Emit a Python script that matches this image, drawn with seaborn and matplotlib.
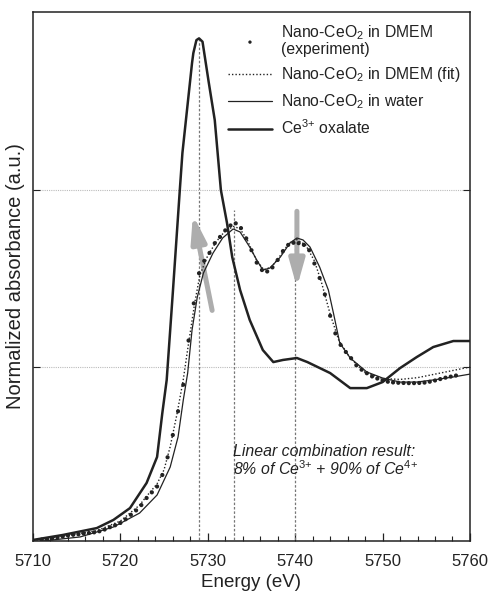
import numpy as np
import pandas as pd
import matplotlib
matplotlib.use("Agg")
import matplotlib.pyplot as plt
import seaborn as sns

# ---------------- data ----------------
oxalate_energy = [5710.0, 5713.4, 5717.3, 5719.2, 5721.1, 5723.0, 5724.2, 5724.8, 5725.3,
                  5726.0, 5726.8, 5727.1, 5727.5, 5728.2, 5728.35, 5728.7, 5729.0, 5729.4,
                  5730.1, 5730.8, 5731.5, 5732.2, 5732.8, 5733.7, 5734.8, 5736.3, 5737.5,
                  5738.6, 5740.2, 5741.4, 5744.0, 5746.3, 5748.2, 5750.0, 5752.0, 5753.9,
                  5755.8, 5758.1, 5760.0]
oxalate_abs = [0.023, 0.051, 0.090, 0.136, 0.203, 0.345, 0.492, 0.740, 0.927,
               1.420, 2.000, 2.210, 2.395, 2.718, 2.774, 2.847, 2.857, 2.838,
               2.612, 2.395, 2.000, 1.814, 1.621, 1.435, 1.266, 1.096, 1.028,
               1.040, 1.051, 1.028, 0.966, 0.881, 0.881, 0.915, 0.994, 1.056,
               1.113, 1.147, 1.147]

water_energy = [5710.0, 5715.4, 5719.2, 5722.2, 5724.2, 5725.7, 5726.6, 5727.2, 5727.7,
                5728.2, 5728.8, 5729.5, 5730.6, 5731.7, 5732.9, 5733.7, 5734.8, 5735.6,
                5736.3, 5737.1, 5738.3, 5739.4, 5740.2, 5740.9, 5741.7, 5742.8, 5743.8,
                5744.4, 5745.1, 5746.3, 5748.2, 5750.0, 5752.0, 5753.9, 5755.8, 5758.1, 5760.0]
water_abs = [0.011, 0.040, 0.096, 0.175, 0.277, 0.435, 0.605, 0.814, 0.966,
             1.209, 1.395, 1.531, 1.644, 1.729, 1.780, 1.763, 1.678, 1.605,
             1.548, 1.559, 1.621, 1.701, 1.729, 1.718, 1.678, 1.565, 1.435,
             1.300, 1.136, 1.051, 0.972, 0.938, 0.915, 0.915, 0.927, 0.944, 0.960]

fit_energy = [5710.0, 5714.0, 5717.3, 5720.0, 5722.2, 5723.0, 5724.2, 5725.0, 5725.7,
              5726.5, 5727.2, 5727.7, 5728.5, 5729.1, 5730.0, 5731.0, 5732.0, 5733.0,
              5733.7, 5734.5, 5735.5, 5736.4, 5737.3, 5738.3, 5739.3, 5740.2, 5741.2,
              5742.2, 5743.0, 5744.0, 5745.0, 5746.3, 5748.0, 5750.0, 5752.0, 5754.0,
              5756.0, 5758.0, 5760.0]
fit_abs = [0.020, 0.050, 0.075, 0.130, 0.220, 0.270, 0.340, 0.420, 0.550,
           0.740, 0.930, 1.100, 1.360, 1.520, 1.630, 1.710, 1.770, 1.795,
           1.780, 1.720, 1.610, 1.550, 1.565, 1.630, 1.700, 1.720, 1.690,
           1.600, 1.480, 1.300, 1.150, 1.050, 0.970, 0.935, 0.930, 0.940,
           0.960, 0.980, 1.000]

exp_energy = [round(5711.0 + 0.6 * i, 1) for i in range(80)]
exp_abs = [0.025, 0.028, 0.032, 0.037, 0.042, 0.048, 0.052, 0.055, 0.059, 0.062,
           0.066, 0.072, 0.082, 0.095, 0.106, 0.119, 0.140, 0.165, 0.190, 0.220,
           0.260, 0.292, 0.325, 0.390, 0.490, 0.616, 0.750, 0.900, 1.150, 1.360,
           1.530, 1.600, 1.645, 1.700, 1.735, 1.772, 1.800, 1.812, 1.785, 1.727,
           1.660, 1.590, 1.548, 1.540, 1.563, 1.605, 1.655, 1.690, 1.702, 1.700,
           1.690, 1.660, 1.585, 1.503, 1.410, 1.290, 1.190, 1.125, 1.085, 1.050,
           1.010, 0.985, 0.965, 0.947, 0.935, 0.925, 0.917, 0.913, 0.911, 0.910,
           0.909, 0.909, 0.910, 0.912, 0.917, 0.924, 0.932, 0.940, 0.946, 0.952]

# reference markers: (energy, top of dashed line)
ref_energy = [5729.0, 5733.0, 5740.0]
ref_top = [2.86, 1.89, 1.75]

x_ticks = [5710, 5720, 5730, 5740, 5750, 5760]
y_grid = [1, 2]

# ---------------- styling ----------------
sns.set_style("ticks")
plt.rcParams["font.family"] = ["Liberation Sans", "DejaVu Sans"]
plt.rcParams["mathtext.fontset"] = "custom"
plt.rcParams["mathtext.rm"] = "Liberation Sans"
plt.rcParams["mathtext.it"] = "Liberation Sans:italic"
ink = "#222222"

fig = plt.figure(figsize=(4.9, 5.94), dpi=100)
ax = fig.add_axes([0.0673, 0.0892, 0.8918, 0.8906])

# grid / reference lines
for g in y_grid:
    ax.axhline(g, color="#bbbbbb", lw=0.8, ls=(0, (1, 1)), zorder=0)
for e, t in zip(ref_energy, ref_top):
    ax.plot([e, e], [0, t], color="#777777", lw=0.9, ls=(0, (2, 1.5)), zorder=1)

df_exp = pd.DataFrame({"Energy": exp_energy, "Abs": exp_abs})
df_fit = pd.DataFrame({"Energy": fit_energy, "Abs": fit_abs})
df_wat = pd.DataFrame({"Energy": water_energy, "Abs": water_abs})
df_oxa = pd.DataFrame({"Energy": oxalate_energy, "Abs": oxalate_abs})

sns.scatterplot(data=df_exp, x="Energy", y="Abs", ax=ax, color=ink, s=9,
                edgecolor="none", zorder=4, label="Nano-CeO$_2$ in DMEM\n(experiment)")
sns.lineplot(data=df_fit, x="Energy", y="Abs", ax=ax, color=ink, lw=1.0,
             ls=(0, (1, 1.5)), zorder=3, label="Nano-CeO$_2$ in DMEM (fit)")
sns.lineplot(data=df_wat, x="Energy", y="Abs", ax=ax, color=ink, lw=0.9,
             zorder=3, label="Nano-CeO$_2$ in water")
sns.lineplot(data=df_oxa, x="Energy", y="Abs", ax=ax, color=ink, lw=1.8,
             zorder=3, label="Ce$^{3{+}}$ oxalate")

# arrows
arrow_kw = dict(arrowstyle="-|>,head_length=1.6,head_width=0.45", color="#adadad",
                lw=3.6, shrinkA=0, shrinkB=0)
ax.annotate("", xy=(5728.3, 1.86), xytext=(5730.5, 1.32),
            arrowprops=arrow_kw, zorder=2)
ax.annotate("", xy=(5740.2, 1.45), xytext=(5740.2, 1.88),
            arrowprops=arrow_kw, zorder=2)

ax.text(5732.9, 0.52, "Linear combination result:", fontsize=11.4, style="italic",
        color=ink, va="center", ha="left")
ax.text(5732.9, 0.425, "8% of Ce$^{3{+}}$ + 90% of Ce$^{4{+}}$", fontsize=11.4,
        style="italic", color=ink, va="center", ha="left")

ax.set_xlim(5710, 5760)
ax.set_ylim(0.017, 3.006)
ax.set_xticks(x_ticks)
ax.set_xticks(np.arange(5712, 5760, 2), minor=True)
ax.set_yticks(y_grid)
ax.set_yticklabels([])
ax.tick_params(axis="x", which="major", direction="in", length=6, width=0.9,
               labelsize=12, colors=ink, pad=9)
ax.tick_params(axis="x", which="minor", direction="in", length=3.5, width=0.8, colors=ink)
ax.tick_params(axis="y", direction="in", length=5, width=0.8, left=True, right=True,
               colors=ink)
for s in ax.spines.values():
    s.set_visible(True)
    s.set_color(ink)
    s.set_linewidth(1.1)

ax.set_xlabel("Energy (eV)", fontsize=13.5, color=ink, labelpad=4)
ax.set_ylabel("Normalized absorbance (a.u.)", fontsize=14.5, color=ink)
ax.yaxis.set_label_coords(-0.018, 0.5)

leg = ax.legend(loc="upper left", bbox_to_anchor=(0.44, 0.985), frameon=False,
                fontsize=11.3, handlelength=2.75, handletextpad=0.6, labelspacing=0.5,
                borderaxespad=0, borderpad=0.2, markerscale=0.8)
for t in leg.get_texts():
    t.set_color(ink)
    t.set_linespacing(1.05)

fig.savefig("out.png", dpi=100)
